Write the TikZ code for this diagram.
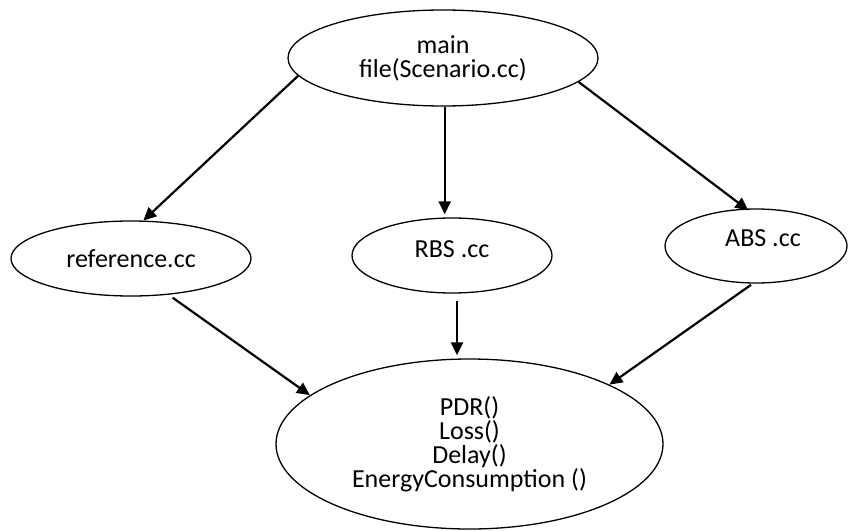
\documentclass[tikz,border=0pt]{standalone}
\usepackage{fontspec}
\setmainfont{Carlito}
\usetikzlibrary{shapes.geometric,arrows.meta}

\begin{document}
\begin{tikzpicture}[x=1pt,y=-1pt,
  oval/.style={ellipse, draw=black, line width=1.3pt, inner sep=0pt,
               align=center, font=\fontsize{26}{24}\selectfont},
  arr/.style={line width=2.2pt, -{Triangle[length=13pt,width=12pt]}}]
  \useasboundingbox (0,0) rectangle (848,530);

  % files
  \node[oval, minimum width=310pt, minimum height=96pt] (main) at (443,58)
       {main\\file(Scenario.cc)};
  \node[oval, minimum width=240pt, minimum height=75pt] (ref) at (131,258.5)
       {reference.cc};
  \node[oval, minimum width=200pt, minimum height=75pt] (rbs) at (452,255.5)
       {\raisebox{12pt}{RBS .cc}};
  \node[oval, minimum width=182pt, minimum height=74pt] (abs) at (756,246)
       {\hspace{14pt}\raisebox{16pt}{ABS .cc}};

  % metric functions
  \node[oval, minimum width=387pt, minimum height=170pt] (bot) at (469.5,444)
       {PDR()\\Loss()\\Delay()\\EnergyConsumption ()};

  % dependencies
  \draw[arr] (main.187) -- (ref.72);
  \draw[arr, shorten >=3pt] (main.272) -- (main.272 |- rbs.north);
  \draw[arr, shorten >=-3pt] (main.350) -- (abs.105);

  \draw[arr, shorten <=5pt] (ref.316) -- (bot.163);
  \draw[arr, shorten <=7pt, shorten >=3pt] ([xshift=5pt]rbs.south) -- ([xshift=5pt]rbs.south |- bot.north);
  \draw[arr, shorten <=2pt] (abs.265) -- (bot.23);
\end{tikzpicture}
\end{document}
